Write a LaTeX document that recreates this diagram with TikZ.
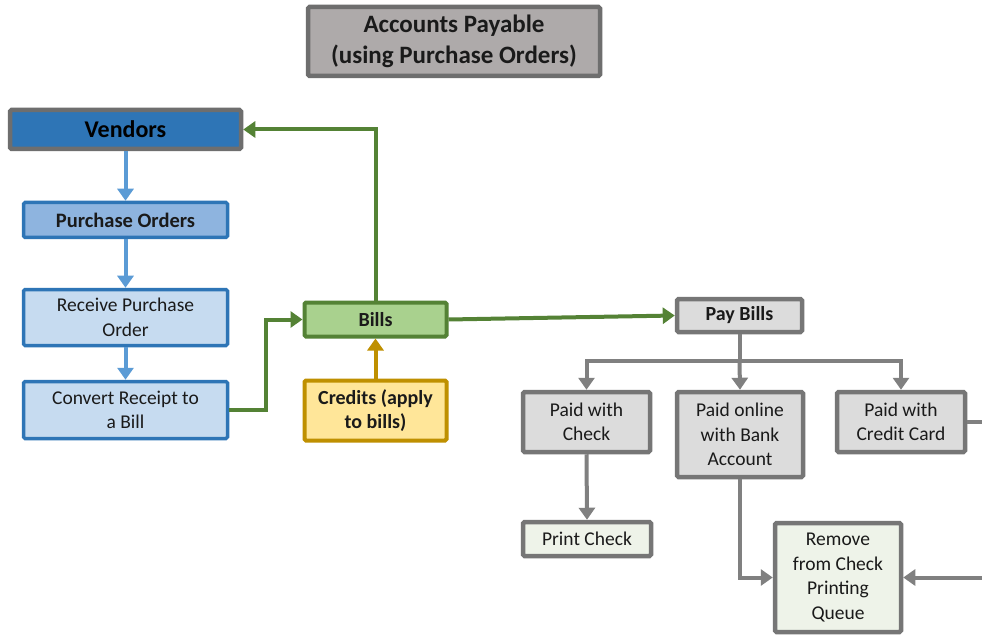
\documentclass[tikz,border=0pt]{standalone}
\usepackage{fontspec}
\setmainfont{Carlito}
\usetikzlibrary{arrows.meta}
\definecolor{titlefill}{HTML}{AEAAAA}
\definecolor{titledraw}{HTML}{6E6E6E}
\definecolor{vendfill}{HTML}{2E75B6}
\definecolor{blueline}{HTML}{2E75B6}
\definecolor{pofill}{HTML}{8EB4DF}
\definecolor{lightblue}{HTML}{C6DBF0}
\definecolor{bluearrow}{HTML}{5B9BD5}
\definecolor{billfill}{HTML}{A9D18E}
\definecolor{greenline}{HTML}{548235}
\definecolor{credfill}{HTML}{FFE699}
\definecolor{goldline}{HTML}{BF9000}
\definecolor{grayfill}{HTML}{DCDCDC}
\definecolor{grayline}{HTML}{767676}
\definecolor{grayarrow}{HTML}{808080}
\definecolor{paleg}{HTML}{EEF3E9}
\definecolor{txt}{HTML}{1A1A1A}
\tikzset{
  box/.style={rectangle, rounded corners=1.5pt, inner sep=0pt, align=center, text=txt,
    font=\fontsize{19.5}{24.5}\selectfont},
  titlebox/.style={box, fill=titlefill, draw=titledraw, line width=4.5pt,
    font=\fontsize{25}{31}\selectfont\bfseries},
  vendbox/.style={box, fill=vendfill, draw=titledraw, line width=4.5pt,
    font=\fontsize{24}{28}\selectfont\bfseries, text=black},
  pobox/.style={box, fill=pofill, draw=blueline, line width=3.5pt,
    font=\fontsize{20.5}{24}\selectfont\bfseries},
  lbbox/.style={box, fill=lightblue, draw=blueline, line width=3.5pt},
  billbox/.style={box, fill=billfill, draw=greenline, line width=4pt,
    font=\fontsize{20}{24.5}\selectfont\bfseries},
  credbox/.style={box, fill=credfill, draw=goldline, line width=4pt,
    font=\fontsize{20}{24.5}\selectfont\bfseries},
  graybox/.style={box, fill=grayfill, draw=grayline, line width=4.5pt},
  paybox/.style={graybox, font=\fontsize{20}{24.5}\selectfont\bfseries},
  palebox/.style={box, fill=paleg, draw=grayline, line width=4.5pt},
  tip/.style={-{Triangle[width=16pt,length=12pt]}},
  bluearr/.style={tip, draw=bluearrow, line width=4pt},
  greenarr/.style={tip, draw=greenline, line width=4pt},
  goldarr/.style={tip, draw=goldline, line width=4pt},
  grayarr/.style={tip, draw=grayarrow, line width=4pt},
  grayln/.style={draw=grayarrow, line width=4pt},
}
\begin{document}
\begin{tikzpicture}[x=1pt,y=-1pt]
\useasboundingbox (0,0) rectangle (982,636);
\clip (0,0) rectangle (982,636);
\fill[white] (0,0) rectangle (982,636);

\node[titlebox, minimum width=292pt, minimum height=69pt] (title) at (454,41.5)
  {Accounts Payable\\(using Purchase Orders)};
\node[vendbox, minimum width=231pt, minimum height=39pt] (vend) at (125.5,129.5) {Vendors};
\node[pobox, minimum width=204pt, minimum height=35pt] (po) at (125.5,220) {Purchase Orders};
\node[lbbox, minimum width=204pt, minimum height=56pt] (recv) at (125.5,317.5) {Receive Purchase\\Order};
\node[lbbox, minimum width=204pt, minimum height=57pt] (conv) at (125.5,410) {Convert Receipt to\\a Bill};
\node[billbox, minimum width=142pt, minimum height=34pt] (bills) at (375.5,319.5) {Bills};
\node[credbox, minimum width=142pt, minimum height=60pt] (cred) at (375.5,410.5) {Credits (apply\\to bills)};
\node[paybox, minimum width=125pt, minimum height=33pt] (pay) at (739.5,315.5) {Pay Bills};
\node[graybox, minimum width=127pt, minimum height=60pt] (chk) at (586.5,422) {Paid with\\Check};
\node[graybox, minimum width=126pt, minimum height=85pt] (bank) at (740,434.5) {Paid online\\with Bank\\Account};
\node[graybox, minimum width=128pt, minimum height=60pt] (cc) at (901,422) {Paid with\\Credit Card};
\node[palebox, minimum width=128pt, minimum height=34pt] (print) at (587,539) {Print Check};
\node[palebox, minimum width=126pt, minimum height=109pt] (rem) at (838,577.5) {Remove\\from Check\\Printing\\Queue};

\coordinate (split) at (739.5,361);
\coordinate (ccout) at (1000,422);
\coordinate (ccdown) at (1000,577.5);

\draw[bluearr] (vend.south) -- (po.north);
\draw[bluearr] (po.south) -- (recv.north);
\draw[bluearr] (recv.south) -- (conv.north);
\draw[greenarr] (conv.east) -- ++(37,0) |- (bills.west);
\draw[greenarr] (bills.north) |- (vend.east);
\draw[greenarr] (bills.east) -- (pay.west);
\draw[goldarr] (cred.north) -- (bills.south);
\draw[grayln] (pay.south) -- (split);
\draw[grayarr] (split) -| (chk.north);
\draw[grayarr] (split) -- (bank.north);
\draw[grayarr] (split) -| (cc.north);
\draw[grayarr] (chk.south) -- (print.north);
\draw[grayarr] (bank.south) |- (rem.west);
\draw[grayarr] (cc.east) -- (ccout) -- (ccdown) -- (rem.east);
\end{tikzpicture}
\end{document}
